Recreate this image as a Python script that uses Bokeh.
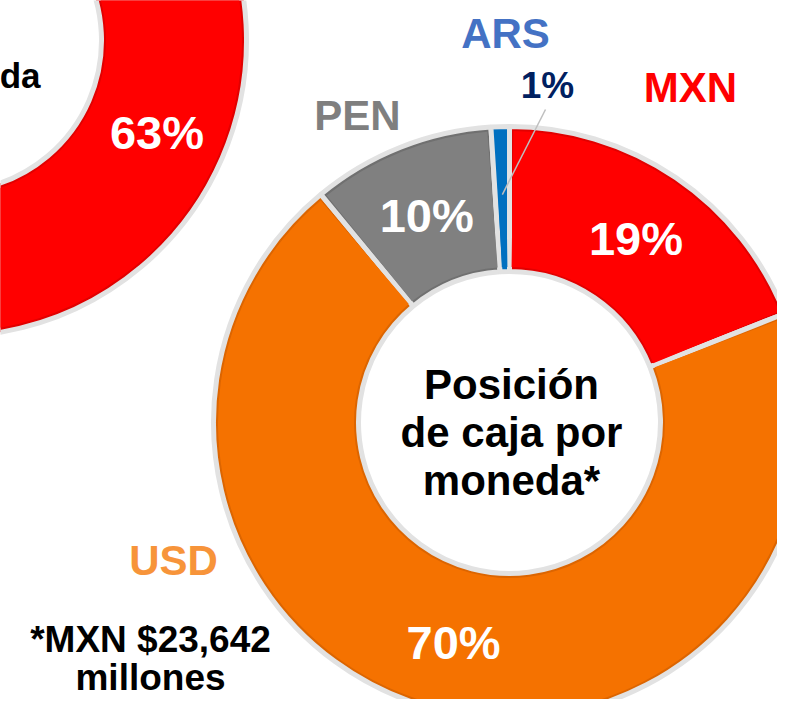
import math
from bokeh.plotting import figure
from bokeh.models import Range1d
from bokeh.core.properties import value
from bokeh.embed import file_html
from bokeh.resources import INLINE

# ---------------- data ----------------
categories = ["MXN", "USD", "PEN", "ARS"]
shares = [19, 70, 10, 1]
pct_labels = ["19%", "70%", "10%", "1%"]

left_categories = ["MXN"]
left_shares = [63]
left_pct_labels = ["63%"]

center_title = ["Posición", "de caja por", "moneda*"]
left_title_tail = ["da"]
footnote = ["*MXN $23,642", "millones"]

# ---------------- style / layout ----------------
FONT = value("Liberation Sans")
fill = {"MXN": "#FF0000", "USD": "#F57200", "PEN": "#808080", "ARS": "#0070C0"}
edge = {"MXN": "#E20000", "USD": "#DC6500", "PEN": "#707070", "ARS": "#0070C0"}
name_color = {"MXN": "#FF0000", "USD": "#F7943A", "PEN": "#7F7F7F", "ARS": "#4472C4"}
# category name label positions (image px: center x, baseline y)
name_pos = {"ARS": (505, 46), "MXN": (690, 100), "PEN": (357, 128), "USD": (173, 573)}
small_label_pos = {"ARS": (547, 96)}

R_OUT, R_IN = 296, 151
main_c = (509, 422)
left_c = (-50, 40)
GAP = "#E2E2E2"
BASE_FIX = 0.31  # baseline correction, fraction of font size

W, H = 777, 699
p = figure(width=W, height=H, output_backend="svg", toolbar_location=None,
           x_range=Range1d(0, W), y_range=Range1d(-H, 0),
           x_axis_type=None, y_axis_type=None, min_border=0,
           background_fill_color="white", border_fill_color="white")
p.outline_line_color = None
p.grid.visible = False


def txt(xs, ys_img, texts, size, color, align="center"):
    ys = [-(y - BASE_FIX * size) for y in ys_img]
    p.text(x=xs, y=ys, text=texts, text_font=FONT, text_font_style="bold",
           text_font_size=f"{size}px", text_color=color, text_align=align,
           text_baseline="alphabetic")


def wedges(center, cats, vals):
    total = 100.0
    starts, ends, mids = [], [], []
    cum = 0.0
    for v in vals:
        a0 = math.pi / 2 - 2 * math.pi * cum / total
        cum += v
        a1 = math.pi / 2 - 2 * math.pi * cum / total
        starts.append(a0)
        ends.append(a1)
        mids.append((a0 + a1) / 2)
    cx, cy = center[0], -center[1]
    n = len(cats)
    p.annular_wedge(x=[cx] * n, y=[cy] * n, inner_radius=R_IN, outer_radius=R_OUT,
                    start_angle=starts, end_angle=ends, direction="clock",
                    fill_color=[edge[c] for c in cats], line_color=GAP, line_width=5)
    d = 3.0 / ((R_IN + R_OUT) / 2)
    s2 = [a - d for a in starts]
    e2 = [b + d for b in ends]
    p.annular_wedge(x=[cx] * n, y=[cy] * n, inner_radius=R_IN + 4.5, outer_radius=R_OUT - 4.5,
                    start_angle=s2, end_angle=e2, direction="clock",
                    fill_color=[fill[c] for c in cats], line_color=None)
    return mids


def pct_text(center, mids, labels, vals, rad=225):
    xs, ys, ts = [], [], []
    for m, t, v in zip(mids, labels, vals):
        if v < 5:
            continue
        xs.append(center[0] + rad * math.cos(m))
        ys.append(center[1] - rad * math.sin(m) + 17)
        ts.append(t)
    txt(xs, ys, ts, 47, "white")


# left donut (partly visible)
lm = wedges(left_c, left_categories, left_shares)
pct_text(left_c, lm, left_pct_labels, left_shares)
txt([40], [86], left_title_tail, 35, "black", align="right")

# main donut
mm = wedges(main_c, categories, shares)
pct_text(main_c, mm, pct_labels, shares)

# small slice labels with leader lines
for c, m, t, v in zip(categories, mm, pct_labels, shares):
    if v >= 5:
        continue
    lx, ly = small_label_pos[c]
    px = main_c[0] + 228 * math.cos(m)
    py = -main_c[1] + 228 * math.sin(m)
    p.line(x=[lx - 2, px], y=[-(ly + 13), py], line_color="#BFBFBF", line_width=1.5)
    txt([lx], [ly], [t], 37, "#002060")

# category names
for c in categories:
    x, y = name_pos[c]
    txt([x], [y], [c], 42, name_color[c])

# center title
txt([511] * len(center_title), [397, 445, 493], center_title, 42, "black")

# footnote
txt([150, 150], [650, 688], footnote, 37, "black")

open("out.html", "w").write(file_html(p, INLINE))
